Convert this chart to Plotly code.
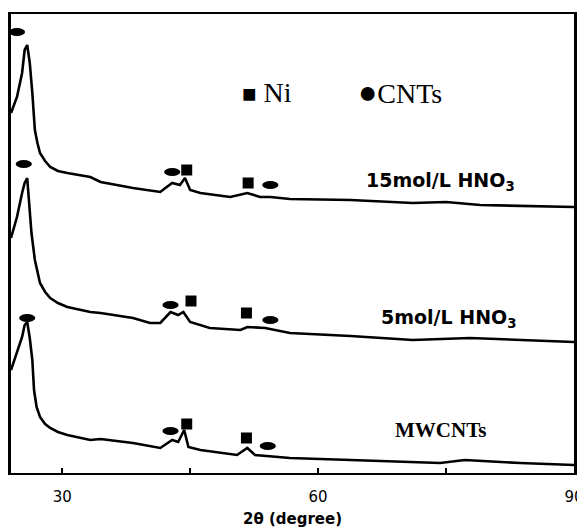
import plotly.graph_objects as go

# 2-theta (degree) and intensity (a.u., stacked) for each pattern
theta_15 = [24.0, 24.7, 25.3, 25.6, 25.9, 26.2, 26.5, 26.8, 27.1, 27.4, 28.0, 28.6, 29.5, 30.6, 33.3, 34.5,
            38.3, 41.5, 42.1, 42.9, 43.8, 44.4, 45.0, 46.2, 49.7, 51.7, 53.2, 54.4, 56.7, 63.8, 71.1, 75.0,
            79.0, 90.0]
inten_15 = [360, 376, 400, 423, 428, 410, 380, 343, 330, 320, 312, 306, 302, 300, 296, 291,
            285, 281, 285, 290, 288, 295, 283, 280, 276, 280, 276, 276, 274, 273, 270, 271,
            268, 266]

theta_5 = [24.0, 24.7, 25.3, 25.6, 25.9, 26.1, 26.4, 26.8, 27.1, 27.4, 28.0, 28.6, 29.5, 30.6, 33.3, 34.5,
           38.3, 40.3, 41.5, 42.7, 43.6, 44.2, 45.0, 47.3, 50.9, 51.7, 53.8, 56.7, 63.8, 71.1, 77.8, 90.0]
inten_5 = [235, 256, 280, 290, 295, 270, 240, 213, 200, 190, 181, 175, 170, 166, 161, 160,
           155, 150, 150, 161, 158, 161, 151, 145, 143, 146, 145, 140, 137, 133, 135, 131]

theta_mw = [24.0, 24.7, 25.3, 25.6, 25.9, 26.2, 26.5, 26.7, 27.0, 27.4, 28.0, 28.6, 29.5, 30.6, 33.3, 34.5,
            38.3, 41.5, 42.9, 43.6, 44.3, 44.8, 46.2, 50.5, 51.7, 52.6, 56.7, 63.8, 71.1, 74.3, 77.2, 79.0,
            83.7, 90.0]
inten_mw = [103, 120, 136, 148, 151, 135, 113, 83, 66, 56, 49, 45, 41, 38, 33, 34,
            30, 25, 33, 31, 43, 26, 23, 18, 25, 18, 15, 13, 11, 10, 13, 12,
            10, 8]

# peak markers
ni_theta = [44.6, 51.8, 45.1, 51.6, 44.6, 51.6]
ni_inten = [303, 290, 172, 160, 49, 35]
cnt_theta = [24.7, 42.9, 54.4, 25.5, 42.7, 54.4, 25.9, 42.7, 54.1]
cnt_inten = [441, 301, 288, 309, 168, 153, 155, 42, 27]

x_ticks = [30, 60, 90]
x_ticktext = ["30", "60", "90"]
x_minor_ticks = [45, 75]

fig = go.Figure()
for tx, iy in [(theta_15, inten_15), (theta_5, inten_5), (theta_mw, inten_mw)]:
    fig.add_trace(go.Scatter(x=tx, y=iy, mode="lines",
                             line=dict(color="black", width=2.6), showlegend=False,
                             hoverinfo="skip"))

fig.add_trace(go.Scatter(x=ni_theta, y=ni_inten, mode="markers",
                         marker=dict(symbol="square", size=11, color="black"),
                         showlegend=False))

cw, ch = 1.9, 8
for cx, cy in zip(cnt_theta, cnt_inten):
    fig.add_shape(type="circle", xref="x", yref="y",
                  x0=cx - cw / 2, x1=cx + cw / 2, y0=cy - ch / 2, y1=cy + ch / 2,
                  fillcolor="black", line=dict(color="black", width=0))

serif = "Liberation Serif, Times New Roman, serif"
bold = "DejaVu Sans, Arial, sans-serif"
annos = [
    dict(x=50.8, y=381, text="<span style='font-size:24px'>■</span> Ni", xanchor="left",
         font=dict(family=serif, size=28, color="black")),
    dict(x=64.5, y=381, text="<span style='font-size:32px'>●</span>CNTs", xanchor="left",
         font=dict(family=serif, size=28, color="black")),
    dict(x=74.4, y=292, text="<b>15mol/L HNO<sub>3</sub></b>", font=dict(family=bold, size=19, color="black")),
    dict(x=75.3, y=155, text="<b>5mol/L HNO<sub>3</sub></b>", font=dict(family=bold, size=19, color="black")),
    dict(x=74.3, y=43, text="<b>MWCNTs</b>", font=dict(family=serif, size=21, color="black")),
]
for a in annos:
    a.update(xref="x", yref="y", showarrow=False)
    fig.add_annotation(**a)

# the page body adds an 8px margin, so the figure is sized/offset to compensate
fig.update_layout(
    width=577, height=520,
    margin=dict(l=3, r=11, t=6, b=55),
    paper_bgcolor="white", plot_bgcolor="white",
    xaxis=dict(range=[24, 90], tickvals=x_ticks, ticktext=x_ticktext, automargin=False,
               ticks="inside", ticklen=5, tickwidth=2, tickcolor="black",
               minor=dict(tickvals=x_minor_ticks, ticks="inside", ticklen=5, tickwidth=2,
                          tickcolor="black", showgrid=False),
               showgrid=False, zeroline=False, showline=True, linecolor="black",
               linewidth=2, mirror=True, ticklabelstandoff=9,
               tickfont=dict(family=bold, size=15, color="black"),
               title=dict(text="<b>2θ (degree)</b>", standoff=13,
                          font=dict(family=bold, size=15, color="black"))),
    yaxis=dict(range=[0, 459], showticklabels=False, ticks="", showgrid=False, automargin=False,
               zeroline=False, showline=True, linecolor="black", linewidth=2.5, mirror=True),
)

fig.write_html("out.html")
